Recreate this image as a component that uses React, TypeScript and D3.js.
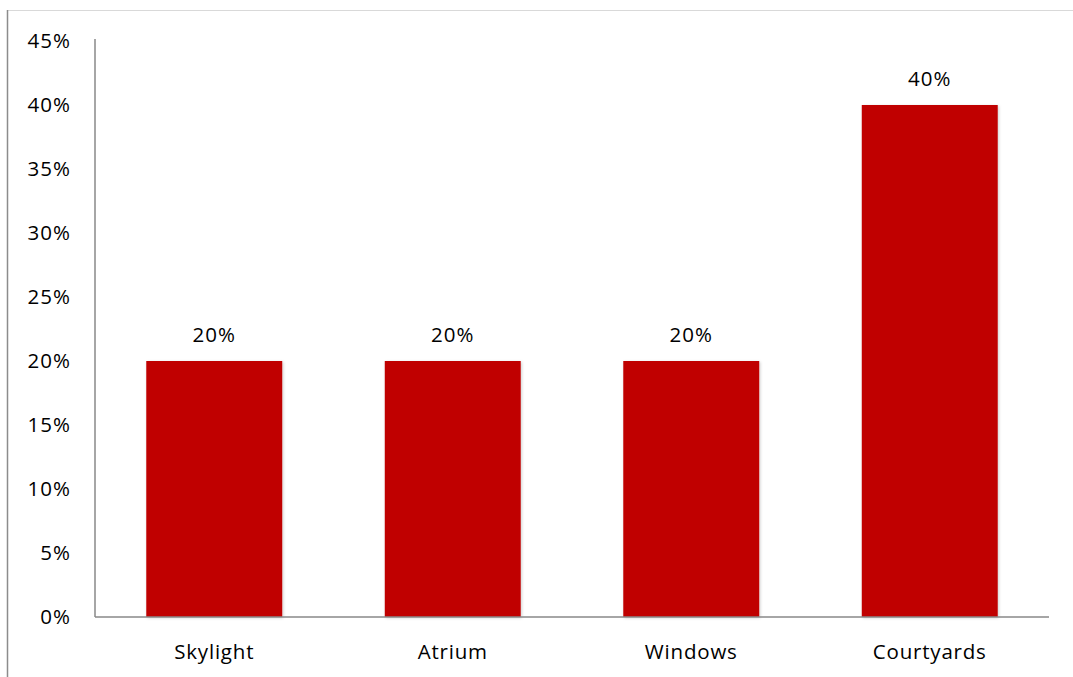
import React from "react";
import * as d3 from "d3";

const categories = ["Skylight", "Atrium", "Windows", "Courtyards"];
const values = [0.2, 0.2, 0.2, 0.4];
const yTicks = [0, 0.05, 0.1, 0.15, 0.2, 0.25, 0.3, 0.35, 0.4, 0.45];

const W = 1073;
const H = 677;
const FONT = "'Open Sans', sans-serif";

export default function App() {
  const left = 95;
  const right = 1049;
  const top = 41;
  const bottom = 617;

  const x = d3.scaleBand<string>().domain(categories).range([left, right]).paddingInner(0.43).paddingOuter(0.215);
  const y = d3.scaleLinear().domain([0, 0.45]).range([bottom, top]);
  const fmt = d3.format(".0%");

  return (
    <svg width={W} height={H} style={{ position: "absolute", left: 0, top: 0, background: "#fff" }}>
      <defs>
        <filter id="sh" x="-10%" y="-10%" width="120%" height="120%">
          <feDropShadow dx="1" dy="1" stdDeviation="1.5" floodColor="#000" floodOpacity="0.2" />
        </filter>
      </defs>
      <rect x={0} y={0} width={W} height={H} fill="#fff" />
      {/* outer frame */}
      <line x1={7} x2={W} y1={10.5} y2={10.5} stroke="#d9d9d9" strokeWidth={1} />
      <line x1={7.5} x2={7.5} y1={10} y2={H} stroke="#8c8c8c" strokeWidth={1.5} />

      {/* bars */}
      {categories.map((c, i) => (
        <rect
          key={c}
          x={x(c)}
          y={y(values[i])}
          width={x.bandwidth()}
          height={y(0) - y(values[i])}
          fill="#C00000"
          filter="url(#sh)"
        />
      ))}

      {/* axes */}
      <line x1={left} x2={left} y1={39} y2={bottom} stroke="#898989" strokeWidth={1.5} />
      <line x1={left} x2={right} y1={bottom} y2={bottom} stroke="#898989" strokeWidth={1.5} />

      {/* y tick labels */}
      {yTicks.map((t) => (
        <text
          key={t}
          x={71}
          y={y(t)}
          dy="0.36em"
          textAnchor="end"
          fontFamily={FONT}
          fontSize={20.5}
          letterSpacing={1}
          fill="#000"
        >
          {fmt(t)}
        </text>
      ))}

      {/* data labels */}
      {categories.map((c, i) => (
        <text
          key={c}
          x={(x(c) as number) + x.bandwidth() / 2}
          y={y(values[i]) - 19}
          textAnchor="middle"
          fontFamily={FONT}
          fontSize={20.5}
          letterSpacing={1}
          fill="#000"
        >
          {fmt(values[i])}
        </text>
      ))}

      {/* category labels */}
      {categories.map((c) => (
        <text
          key={c}
          x={(x(c) as number) + x.bandwidth() / 2}
          y={659}
          textAnchor="middle"
          fontFamily={FONT}
          fontSize={20.5}
          letterSpacing={0.8}
          fill="#000"
        >
          {c}
        </text>
      ))}
    </svg>
  );
}
